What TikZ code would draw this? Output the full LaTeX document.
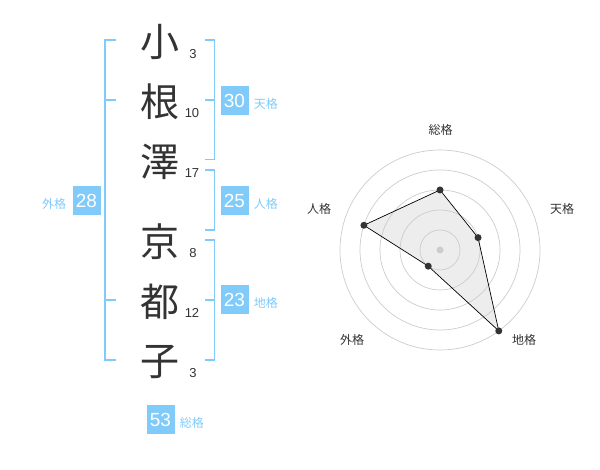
\documentclass[tikz,border=0pt]{standalone}
\usepackage{fontspec}
\setmainfont{Liberation Sans}
\newfontfamily\cjk{Noto Sans CJK JP}
\usetikzlibrary{positioning}
\definecolor{kakublue}{RGB}{128,203,250}
\definecolor{inkgray}{RGB}{51,51,51}
\tikzset{
  kanji/.style     = {font=\cjk\fontsize{39}{39}\selectfont, text=inkgray, inner sep=0pt},
  strokes/.style   = {font=\fontsize{13}{13}\selectfont, text=inkgray, inner sep=0pt},
  kakubox/.style   = {fill=kakublue, text=white, font=\fontsize{19}{19}\selectfont, minimum width=28pt, minimum height=29pt, inner sep=0pt},
  kakulabel/.style = {font=\cjk\fontsize{12}{12}\selectfont, text=kakublue, inner sep=0pt, yshift=-3pt},
  bracket/.style   = {kakublue, line width=1.6pt},
  ring/.style      = {black!20, line width=0.7pt},
  radarfill/.style = {fill=black!7},
  radarline/.style = {black, line width=0.7pt},
  radardot/.style  = {circle, fill=inkgray, inner sep=0pt, minimum size=7pt},
  axislabel/.style = {font=\cjk\fontsize{12}{12}\selectfont, text=inkgray, inner sep=0pt},
}

\begin{document}
\begin{tikzpicture}[x=1pt, y=-1pt, node distance=60pt]
    \useasboundingbox (0,0) rectangle (600,470);

    \node [kanji] (k1) at (160,42) {小};
    \node [kanji, below of=k1] (k2) {根};
    \node [kanji, below of=k2] (k3) {澤};
    \node [kanji, node distance=80pt, below of=k3] (k4) {京};
    \node [kanji, below of=k4] (k5) {都};
    \node [kanji, below of=k5] (k6) {子};

    \node [strokes] (s1) at (193,54) {3};
    \node [strokes] (s2) at (192,113) {10};
    \node [strokes] (s3) at (192,173) {17};
    \node [strokes] (s4) at (193,253) {8};
    \node [strokes] (s5) at (192,313) {12};
    \node [strokes] (s6) at (193,373) {3};

    \draw [bracket] (116,40) -- (105,40) -- (105,360) -- (116,360);
    \draw [bracket] (105,100) -- (116,100);
    \draw [bracket] (105,300) -- (116,300);

    \draw [bracket] (205,40) -- (214.5,40) -- (214.5,159.5) -- (205,159.5);
    \draw [bracket] (205,100) -- (214.5,100);
    \draw [bracket] (205,170) -- (214.5,170) -- (214.5,230) -- (205,230);
    \draw [bracket] (205,240) -- (214.5,240) -- (214.5,360) -- (205,360);
    \draw [bracket] (205,300) -- (214.5,300);

    \node [kakubox] (ten) at (234.5,100.5) {30};
    \node [kakulabel, right=5pt of ten] (tenl) {天格};
    \node [kakubox] (jin) at (234.5,200.5) {25};
    \node [kakulabel, right=5pt of jin] (jinl) {人格};
    \node [kakubox] (chi) at (234.5,300) {23};
    \node [kakulabel, right=5pt of chi] (chil) {地格};
    \node [kakubox] (gai) at (86.5,200.5) {28};
    \node [kakulabel, left=6pt of gai] (gail) {外格};
    \node [kakubox] (sou) at (160.5,419.5) {53};
    \node [kakulabel, right=5pt of sou] (soul) {総格};

    \begin{scope}[shift={(440,250)}, y=1pt]
        \coordinate (rsou) at (90:60);
        \coordinate (rten) at (18:40);
        \coordinate (rchi) at (-54:100);
        \coordinate (rgai) at (-126:20);
        \coordinate (rjin) at (162:80);
        \fill [radarfill] (rsou) -- (rten) -- (rchi) -- (rgai) -- (rjin) -- cycle;

        \draw [ring] (0,0) circle (20);
        \draw [ring] (0,0) circle (40);
        \draw [ring] (0,0) circle (60);
        \draw [ring] (0,0) circle (80);
        \draw [ring] (0,0) circle (100);
        \fill [black!20] (0,0) circle (3.5);

        \draw [radarline] (rsou) -- (rten) -- (rchi) -- (rgai) -- (rjin) -- cycle;

        \node [radardot] (dsou) at (rsou) {};
        \node [radardot] (dten) at (rten) {};
        \node [radardot] (dchi) at (rchi) {};
        \node [radardot] (dgai) at (rgai) {};
        \node [radardot] (djin) at (rjin) {};

        \node [axislabel] (asou) at (0.7,120) {総格};
        \node [axislabel] (aten) at (122,41) {天格};
        \node [axislabel] (ajin) at (-121,41) {人格};
        \node [axislabel] (achi) at (84,-90) {地格};
        \node [axislabel] (agai) at (-88,-90) {外格};
    \end{scope}
\end{tikzpicture}
\end{document}
